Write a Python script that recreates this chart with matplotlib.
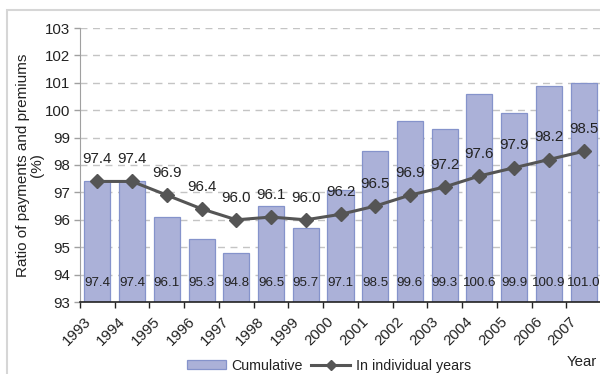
import matplotlib
matplotlib.use("Agg")
import matplotlib.pyplot as plt
import matplotlib.transforms as mtransforms
from matplotlib.patches import Rectangle
from matplotlib.lines import Line2D
import numpy as np

plt.rcParams['font.family'] = ['Liberation Sans', 'DejaVu Sans']

years = ['1993', '1994', '1995', '1996', '1997', '1998', '1999', '2000',
         '2001', '2002', '2003', '2004', '2005', '2006', '2007']
cumulative = [97.4, 97.4, 96.1, 95.3, 94.8, 96.5, 95.7, 97.1,
              98.5, 99.6, 99.3, 100.6, 99.9, 100.9, 101.0]
individual = [97.4, 97.4, 96.9, 96.4, 96.0, 96.1, 96.0, 96.2,
              96.5, 96.9, 97.2, 97.6, 97.9, 98.2, 98.5]

bar_face = '#abb1d8'
bar_edge = '#8593cb'
line_col = '#555555'
txt_col = '#222222'

fig = plt.figure(figsize=(6.0, 3.74), dpi=100)
# outer chart border (left and top edges visible)
fig.patches.append(Rectangle((7 / 600, -0.2), 1.2, 1.2 - 10 / 374,
                             transform=fig.transFigure, fill=False,
                             edgecolor='#d6d6d6', lw=1.5, zorder=0))
ax = fig.add_axes([80 / 600, 72 / 374, 521 / 600, 274 / 374])

x = np.arange(len(years))
ax.bar(x, [c - 93 for c in cumulative], bottom=93, width=0.75,
       color=bar_face, edgecolor=bar_edge, lw=0.9, zorder=2, label='Cumulative')
ax.plot(x, individual, color=line_col, lw=2.2, marker='D', markersize=7,
        zorder=3, label='In individual years')

for xi, v in zip(x, individual):
    ax.annotate(f'{v:.1f}', (xi, v), xytext=(0, 11), textcoords='offset points',
                ha='center', va='bottom', fontsize=10.8, color=txt_col, zorder=4)
for xi, v in zip(x, cumulative):
    ax.text(xi, 93.68, f'{v:.1f}', ha='center', va='center', fontsize=9.6,
            color=txt_col, zorder=4)

ax.set_xlim(-0.5, len(years) - 0.5)
ax.set_ylim(93, 103)
ax.set_yticks(range(93, 104))
ax.yaxis.grid(True, linestyle=(0, (5, 4)), color='#c4c4c4', lw=1.0, zorder=0)
ax.set_axisbelow(True)

ax.set_xticks(x)
ax.set_xticklabels(years, rotation=45, ha='right', fontsize=10.8, color=txt_col)
ax.tick_params(axis='x', which='major', length=0, pad=9)
ax.set_xticks(np.arange(-0.5, len(years) + 0.5, 1), minor=True)
ax.tick_params(axis='x', which='minor', length=4, width=1, color='#222222',
               direction='out')
offset = mtransforms.ScaledTranslation(-4 / 100, 0, fig.dpi_scale_trans)
for lab in ax.get_xticklabels():
    lab.set_transform(lab.get_transform() + offset)

ax.tick_params(axis='y', length=4, width=1, color='#a0a0a0', labelsize=10.8,
               labelcolor=txt_col, pad=3)
for s in ['top', 'right']:
    ax.spines[s].set_visible(False)
ax.spines['left'].set_color('#a0a0a0')
ax.spines['bottom'].set_color('#222222')
ax.spines['bottom'].set_linewidth(1.2)

ax.set_ylabel('Ratio of payments and premiums\n(%)', fontsize=11,
              color=txt_col, labelpad=1, linespacing=1.0)

handles = [Rectangle((0, 0), 1, 1, facecolor=bar_face, edgecolor=bar_edge, lw=0.9),
           Line2D([], [], color=line_col, lw=2.2, marker='D', markersize=5)]
fig.legend(handles, ['Cumulative', 'In individual years'], loc='center',
           bbox_to_anchor=(329 / 600, 8 / 374), ncol=2, frameon=False,
           fontsize=10.3, handlelength=2.7, handletextpad=0.4, columnspacing=0.6,
           handleheight=0.6, labelcolor=txt_col)

fig.text(582 / 600, 12 / 374, 'Year', ha='center', va='center', fontsize=10.8,
         color=txt_col)

fig.savefig('out.png', dpi=100)
